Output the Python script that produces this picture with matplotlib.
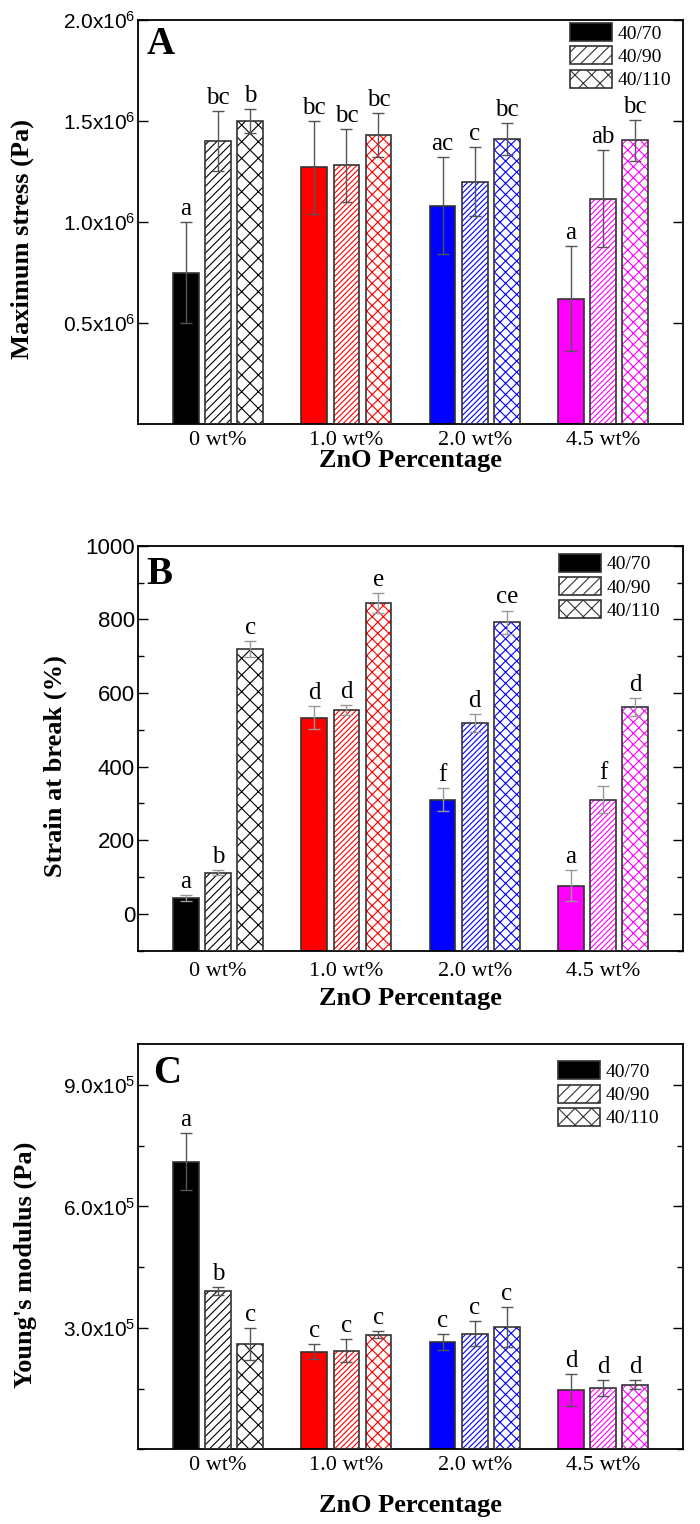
import matplotlib
matplotlib.use('Agg')
import matplotlib.pyplot as plt
import numpy as np
from matplotlib.patches import Patch
from matplotlib.ticker import FixedLocator, MultipleLocator

plt.rcParams['font.family'] = 'Liberation Sans'
plt.rcParams['mathtext.fontset'] = 'custom'
plt.rcParams['mathtext.rm'] = 'Liberation Sans'
plt.rcParams['mathtext.default'] = 'regular'
plt.rcParams['hatch.linewidth'] = 0.8

SERIF = 'Liberation Serif'

categories = ['0 wt%', '1.0 wt%', '2.0 wt%', '4.5 wt%']
series = ['40/70', '40/90', '40/110']
group_colors = ['#000000', '#ff0000', '#0000ff', '#ff00ff']

# Panel A: Maximum stress (Pa)
stress_70 = [0.749e6, 1.271e6, 1.081e6, 0.620e6]
stress_90 = [1.400e6, 1.281e6, 1.200e6, 1.115e6]
stress_110 = [1.500e6, 1.431e6, 1.411e6, 1.404e6]
stress_err_70 = [0.25e6, 0.23e6, 0.24e6, 0.26e6]
stress_err_90 = [0.15e6, 0.18e6, 0.17e6, 0.24e6]
stress_err_110 = [0.06e6, 0.11e6, 0.08e6, 0.10e6]
stress_let_70 = ['a', 'bc', 'ac', 'a']
stress_let_90 = ['bc', 'bc', 'c', 'ab']
stress_let_110 = ['b', 'bc', 'bc', 'bc']

# Panel B: Strain at break (%)
strain_70 = [43, 533, 310, 76]
strain_90 = [112, 553, 519, 310]
strain_110 = [720, 845, 792, 562]
strain_err_70 = [9, 32, 31, 42]
strain_err_90 = [6, 14, 25, 37]
strain_err_110 = [21, 27, 32, 24]
strain_let_70 = ['a', 'd', 'f', 'a']
strain_let_90 = ['b', 'd', 'd', 'f']
strain_let_110 = ['c', 'e', 'ce', 'd']

# Panel C: Young's modulus (Pa)
modulus_70 = [7.10e5, 2.41e5, 2.65e5, 1.46e5]
modulus_90 = [3.90e5, 2.44e5, 2.86e5, 1.51e5]
modulus_110 = [2.60e5, 2.835e5, 3.02e5, 1.60e5]
modulus_err_70 = [0.70e5, 0.19e5, 0.19e5, 0.40e5]
modulus_err_90 = [0.10e5, 0.29e5, 0.30e5, 0.20e5]
modulus_err_110 = [0.39e5, 0.09e5, 0.50e5, 0.11e5]
modulus_let_70 = ['a', 'c', 'c', 'd']
modulus_let_90 = ['b', 'c', 'c', 'd']
modulus_let_110 = ['c', 'c', 'c', 'd']

EDGE = '#333333'
width = 0.2
offset = 0.25


def draw_panel(ax, vals, errs, lets, base, ylim, err_color):
    xc = np.arange(len(categories))
    hatch_sets = [None, ['////', '//////', '//////', '//////'],
                  ['xx', 'xxx', 'xxx', 'xxx']]
    for s in range(3):
        xs = xc + (s - 1) * offset
        v = np.array(vals[s], dtype=float)
        heights = v - base
        if s == 0:
            ax.bar(xs, heights, width, bottom=base, color=group_colors,
                   edgecolor=EDGE, linewidth=1.2, zorder=2)
        else:
            bars = ax.bar(xs, heights, width, bottom=base, color='white',
                          edgecolor=group_colors, linewidth=0, zorder=2)
            for p, h in zip(bars, hatch_sets[s]):
                p.set_hatch(h)
            ax.bar(xs, heights, width, bottom=base, fill=False,
                   edgecolor=EDGE, linewidth=1.2, zorder=3)
        ax.errorbar(xs, v, yerr=errs[s], fmt='none', ecolor=err_color,
                    elinewidth=1.0, capsize=4, capthick=1.0, zorder=4)
        for xi, vi, ei, li in zip(xs, v, errs[s], lets[s]):
            ax.annotate(li, (xi, vi + ei), xytext=(0, 1.5),
                        textcoords='offset points', ha='center', va='bottom',
                        family=SERIF, fontsize=18, zorder=5)
    ax.set_xlim(-0.625, 3.625)
    ax.set_ylim(*ylim)
    ax.set_xticks(xc)
    ax.set_xticklabels(categories, family=SERIF, fontsize=16)
    ax.tick_params(axis='x', length=0)
    ax.tick_params(axis='y', which='both', direction='in', right=True,
                   labelright=False, width=1.0, pad=2)
    ax.tick_params(axis='y', which='major', length=7)
    ax.tick_params(axis='y', which='minor', length=4)
    for sp in ax.spines.values():
        sp.set_linewidth(1.3)
    handles = [Patch(facecolor='black', edgecolor=EDGE, linewidth=1.2),
               Patch(facecolor='white', edgecolor=EDGE, hatch='///', linewidth=1.2),
               Patch(facecolor='white', edgecolor=EDGE, hatch='xx', linewidth=1.2)]
    return handles


def add_legend(ax, handles, anchor):
    ax.legend(handles, series, loc='upper right', bbox_to_anchor=anchor,
              frameon=False, prop={'family': SERIF, 'size': 14},
              handlelength=2.15, handleheight=1.05, labelspacing=0.18,
              handletextpad=0.3, borderpad=0, borderaxespad=0)


fig = plt.figure(figsize=(7, 15.24), dpi=100)

# ---- Panel A
axA = fig.add_axes([0.197, 0.7218, 0.779, 0.2651])
h = draw_panel(axA, [stress_70, stress_90, stress_110],
               [stress_err_70, stress_err_90, stress_err_110],
               [stress_let_70, stress_let_90, stress_let_110],
               0.0, (0, 2.0e6), '#555555')
axA.yaxis.set_major_locator(FixedLocator([0.5e6, 1.0e6, 1.5e6, 2.0e6]))
axA.set_yticklabels(['0.5x10$^{6}$', '1.0x10$^{6}$', '1.5x10$^{6}$', '2.0x10$^{6}$'],
                    fontsize=15)
axA.tick_params(axis='x', pad=5)
axA.set_ylabel('Maximum stress (Pa)', family=SERIF, fontweight='bold', fontsize=19)
axA.yaxis.set_label_coords(-0.19, 0.458)
axA.set_xlabel('ZnO Percentage', family=SERIF, fontweight='bold', fontsize=19, va='top')
axA.xaxis.set_label_coords(0.5, -0.062)
axA.text(0.016, 0.985, 'A', transform=axA.transAxes, family=SERIF,
         fontweight='bold', fontsize=28, ha='left', va='top')
add_legend(axA, h, (0.978, 0.992))

# ---- Panel B
axB = fig.add_axes([0.197, 0.3762, 0.779, 0.2657])
h = draw_panel(axB, [strain_70, strain_90, strain_110],
               [strain_err_70, strain_err_90, strain_err_110],
               [strain_let_70, strain_let_90, strain_let_110],
               -100.0, (-100, 1000), '#999999')
axB.yaxis.set_major_locator(FixedLocator([0, 200, 400, 600, 800, 1000]))
axB.yaxis.set_minor_locator(MultipleLocator(100))
axB.set_yticklabels(['0', '200', '400', '600', '800', '1000'], fontsize=16)
axB.tick_params(axis='x', pad=8)
axB.set_ylabel('Strain at break (%)', family=SERIF, fontweight='bold', fontsize=19)
axB.yaxis.set_label_coords(-0.13, 0.456)
axB.set_xlabel('ZnO Percentage', family=SERIF, fontweight='bold', fontsize=19, va='top')
axB.xaxis.set_label_coords(0.5, -0.09)
axB.text(0.016, 0.975, 'B', transform=axB.transAxes, family=SERIF,
         fontweight='bold', fontsize=28, ha='left', va='top')
add_legend(axB, h, (0.958, 0.98))

# ---- Panel C
axC = fig.add_axes([0.197, 0.049, 0.779, 0.2657])
h = draw_panel(axC, [modulus_70, modulus_90, modulus_110],
               [modulus_err_70, modulus_err_90, modulus_err_110],
               [modulus_let_70, modulus_let_90, modulus_let_110],
               0.0, (0, 1.0e6), '#555555')
axC.yaxis.set_major_locator(FixedLocator([3.0e5, 6.0e5, 9.0e5]))
axC.yaxis.set_minor_locator(MultipleLocator(1.5e5))
axC.set_yticklabels(['3.0x10$^{5}$', '6.0x10$^{5}$', '9.0x10$^{5}$'], fontsize=15)
axC.tick_params(axis='x', pad=5)
axC.set_ylabel("Young's modulus (Pa)", family=SERIF, fontweight='bold', fontsize=19)
axC.yaxis.set_label_coords(-0.185, 0.455)
axC.set_xlabel('ZnO Percentage', family=SERIF, fontweight='bold', fontsize=19, va='top')
axC.xaxis.set_label_coords(0.5, -0.11)
axC.text(0.028, 0.975, 'C', transform=axC.transAxes, family=SERIF,
         fontweight='bold', fontsize=28, ha='left', va='top')
add_legend(axC, h, (0.956, 0.958))

fig.savefig('out.png', dpi=100)
